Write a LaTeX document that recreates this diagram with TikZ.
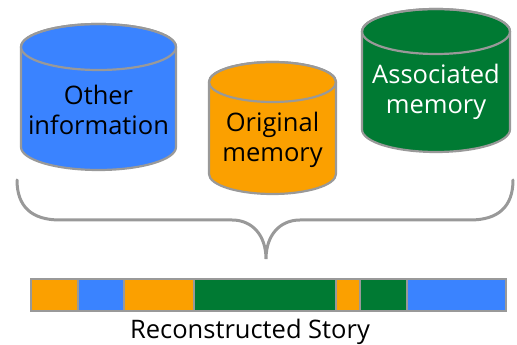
\documentclass[tikz,border=0pt]{standalone}
\usepackage{fontspec}
\setmainfont{Open Sans}
\definecolor{cblue}{HTML}{3A83FF}
\definecolor{corange}{HTML}{FBA000}
\definecolor{cgreen}{HTML}{007A33}
\definecolor{cgray}{HTML}{999999}
\tikzset{
  cyl/.style={draw=cgray, line width=2.2pt},
  lbl/.style={font=\fontsize{25.5}{30}\selectfont, align=center, inner sep=0pt},
  seg/.style={draw=cgray, line width=2pt, minimum height=32pt, inner sep=0pt, anchor=south west},
  bracestyle/.style={draw=cgray, line width=3pt, line cap=round}
}
\begin{document}
\begin{tikzpicture}[x=1pt,y=1pt]
\useasboundingbox (0,0) rectangle (517,345);
% blue cylinder
\path[cyl, fill=cblue] (21,298) -- (21,198) arc[start angle=180,end angle=360,x radius=77.5,y radius=23] -- (176,298) arc[start angle=0,end angle=180,x radius=77.5,y radius=23] -- cycle;
\draw[cyl] (98.5,298) ellipse[x radius=77.5,y radius=23];
\node[lbl] (other) at (98.5,235) {Other\\information};
% orange cylinder
\path[cyl, fill=corange] (209,263) -- (209,171) arc[start angle=180,end angle=360,x radius=63.5,y radius=20] -- (336,263) arc[start angle=0,end angle=180,x radius=63.5,y radius=20] -- cycle;
\draw[cyl] (272.5,263) ellipse[x radius=63.5,y radius=20];
\node[lbl] (orig) at (272.5,205) {Original\\memory};
% green cylinder
\path[cyl, fill=cgreen] (362,313.5) -- (362,215.5) arc[start angle=180,end angle=360,x radius=74,y radius=22.5] -- (510,313.5) arc[start angle=0,end angle=180,x radius=74,y radius=22.5] -- cycle;
\draw[cyl] (436,313.5) ellipse[x radius=74,y radius=22.5];
\node[lbl, text=white] (assoc) at (436,253) {Associated\\memory};
% brace
\coordinate (bl) at (17,165);
\coordinate (br) at (513,165);
\coordinate (tip) at (266,86);
\draw[bracestyle] (bl) .. controls (17,138) and (32,125) .. (60,125) -- (232,125)
  .. controls (252,125) and (266,110) .. (tip)
  .. controls (266,110) and (280,125) .. (300,125) -- (470,125)
  .. controls (498,125) and (513,138) .. (br);
% bar
\node[seg, fill=corange, minimum width=47.5pt] (s1) at (29.5,33) {};
\node[seg, fill=cblue, minimum width=46pt] (s2) at (77,33) {};
\node[seg, fill=corange, minimum width=70pt] (s3) at (123,33) {};
\node[seg, fill=cgreen, minimum width=142pt] (s4) at (193,33) {};
\node[seg, fill=corange, minimum width=24pt] (s5) at (335,33) {};
\node[seg, fill=cgreen, minimum width=47pt] (s6) at (359,33) {};
\node[seg, fill=cblue, minimum width=99pt] (s7) at (406,33) {};
\node[lbl] (story) at (250,13) {Reconstructed Story};
\end{tikzpicture}
\end{document}
